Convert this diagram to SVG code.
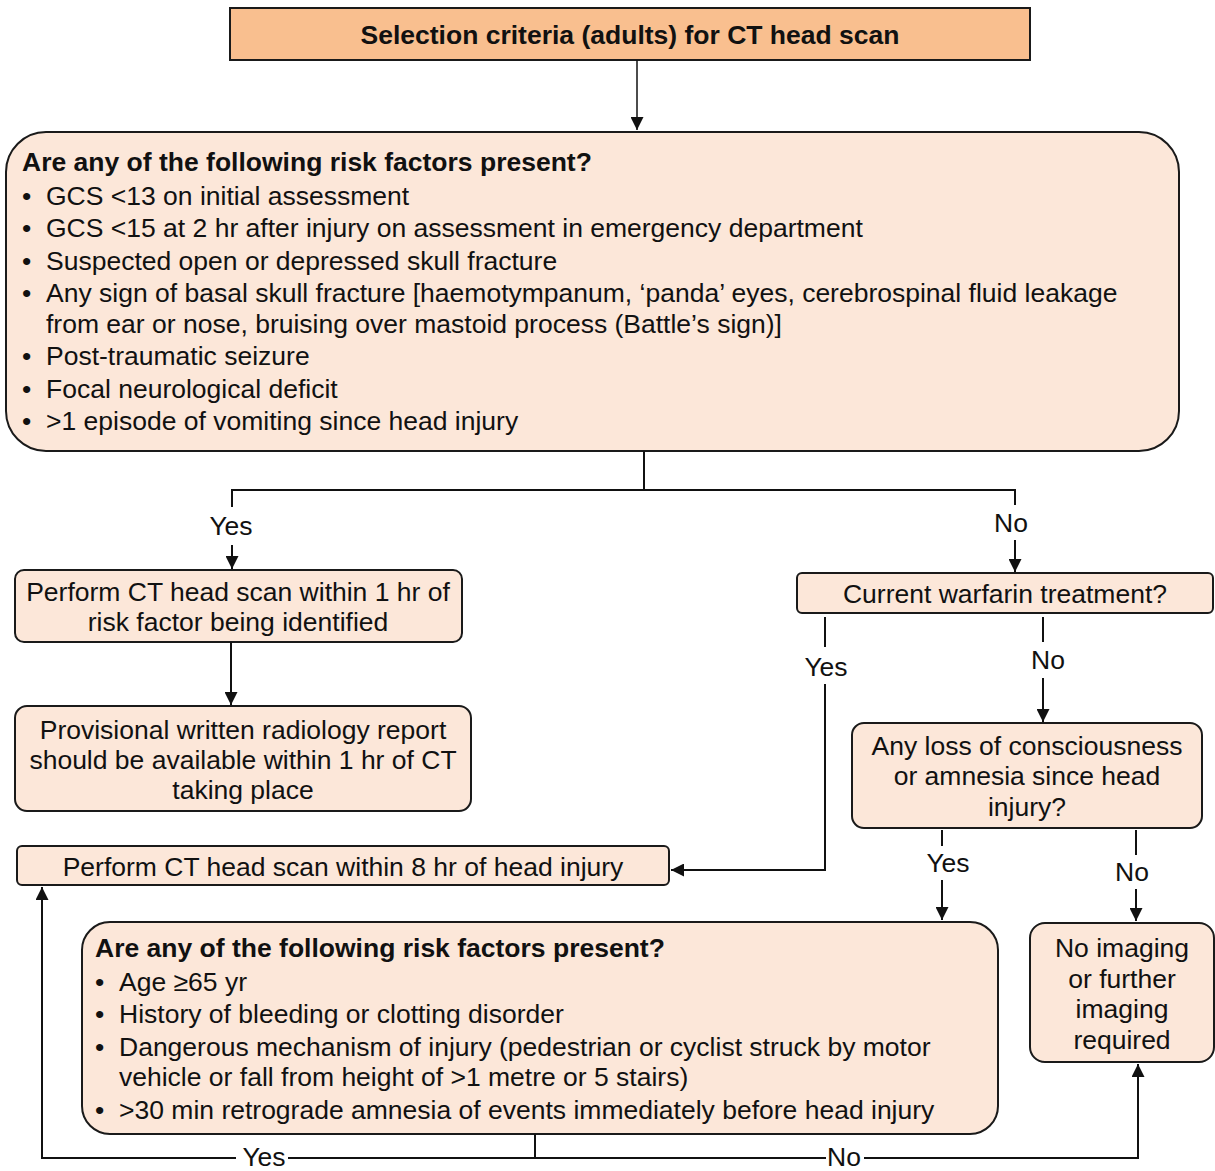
<svg xmlns="http://www.w3.org/2000/svg" width="1215" height="1171" viewBox="0 0 1215 1171">
<defs>
<marker id="ah" viewBox="0 0 14 14" refX="14" refY="7" markerWidth="15" markerHeight="13" markerUnits="userSpaceOnUse" orient="auto">
<path d="M0,0 L14,7 L0,14 Z" fill="#111"/>
</marker>
<style>
.box{fill:#FCE7D9;stroke:#1a1a1a;stroke-width:2}
.title{fill:#F9BF8F;stroke:#1a1a1a;stroke-width:2}
text{font-family:"Liberation Sans",Arial,sans-serif;font-size:26.5px;fill:#111}
.b{font-weight:bold}
.c{text-anchor:middle}
.ln{fill:none;stroke:#111;stroke-width:2}
.thin{stroke-width:1.5}
</style>
</defs>
<g id="n-title">
<rect class="title" x="230" y="8" width="800" height="52"/>
<text class="b c" x="630" y="44">Selection criteria (adults) for CT head scan</text>
</g>
<g id="n-risk1">
<rect class="box" x="6" y="132" width="1173" height="319" rx="40" ry="40"/>
<text class="b" x="22" y="171">Are any of the following risk factors present?</text>
<text x="22" y="205">•</text><text x="46" y="205">GCS &lt;13 on initial assessment</text>
<text x="22" y="237">•</text><text x="46" y="237">GCS &lt;15 at 2 hr after injury on assessment in emergency department</text>
<text x="22" y="270">•</text><text x="46" y="270">Suspected open or depressed skull fracture</text>
<text x="22" y="302">•</text><text x="46" y="302">Any sign of basal skull fracture [haemotympanum, ‘panda’ eyes, cerebrospinal fluid leakage</text>
<text x="46" y="333">from ear or nose, bruising over mastoid process (Battle’s sign)]</text>
<text x="22" y="365">•</text><text x="46" y="365">Post-traumatic seizure</text>
<text x="22" y="398">•</text><text x="46" y="398">Focal neurological deficit</text>
<text x="22" y="430">•</text><text x="46" y="430">&gt;1 episode of vomiting since head injury</text>
</g>
<g id="n-ct1hr">
<rect class="box" x="15" y="570" width="447" height="72" rx="9"/>
<text class="c" x="238" y="601">Perform CT head scan within 1 hr of</text>
<text class="c" x="238" y="631">risk factor being identified</text>
</g>
<g id="n-report">
<rect class="box" x="15" y="706" width="456" height="105" rx="12"/>
<text class="c" x="243" y="739">Provisional written radiology report</text>
<text class="c" x="243" y="769">should be available within 1 hr of CT</text>
<text class="c" x="243" y="799">taking place</text>
</g>
<g id="n-ct8hr">
<rect class="box" x="17" y="846" width="652" height="39" rx="5"/>
<text class="c" x="343" y="876">Perform CT head scan within 8 hr of head injury</text>
</g>
<g id="n-warfarin">
<rect class="box" x="797" y="573" width="416" height="40" rx="5"/>
<text class="c" x="1005" y="603">Current warfarin treatment?</text>
</g>
<g id="n-loc">
<rect class="box" x="852" y="723" width="350" height="105" rx="12"/>
<text class="c" x="1027" y="755">Any loss of consciousness</text>
<text class="c" x="1027" y="785">or amnesia since head</text>
<text class="c" x="1027" y="816">injury?</text>
</g>
<g id="n-risk2">
<rect class="box" x="82" y="922" width="916" height="212" rx="28"/>
<text class="b" x="95" y="957">Are any of the following risk factors present?</text>
<text x="95" y="991">•</text><text x="119" y="991">Age ≥65 yr</text>
<text x="95" y="1023">•</text><text x="119" y="1023">History of bleeding or clotting disorder</text>
<text x="95" y="1056">•</text><text x="119" y="1056">Dangerous mechanism of injury (pedestrian or cyclist struck by motor</text>
<text x="119" y="1086">vehicle or fall from height of &gt;1 metre or 5 stairs)</text>
<text x="95" y="1119">•</text><text x="119" y="1119">&gt;30 min retrograde amnesia of events immediately before head injury</text>
</g>
<g id="n-noimg">
<rect class="box" x="1030" y="923" width="184" height="139" rx="15"/>
<text class="c" x="1122" y="957">No imaging</text>
<text class="c" x="1122" y="988">or further</text>
<text class="c" x="1122" y="1018">imaging</text>
<text class="c" x="1122" y="1049">required</text>
</g>
<g id="connectors">
<path class="ln thin" d="M637,60 V130" marker-end="url(#ah)"/>
<path class="ln" d="M644,451 V490 M232,507 V490 H1015 V505"/>
<path class="ln" d="M232,545 V569" marker-end="url(#ah)"/>
<path class="ln" d="M1015,540 V572" marker-end="url(#ah)"/>
<text class="c" x="231" y="535">Yes</text>
<text class="c" x="1011" y="532">No</text>
<path class="ln" d="M231,642 V705" marker-end="url(#ah)"/>
<path class="ln" d="M825,617 V647"/>
<path class="ln" d="M825,684 V870 H671" marker-end="url(#ah)"/>
<text class="c" x="826" y="676">Yes</text>
<path class="ln" d="M1043,617 V642"/>
<path class="ln" d="M1043,678 V722" marker-end="url(#ah)"/>
<text class="c" x="1048" y="669">No</text>
<path class="ln" d="M942,830 V846"/>
<path class="ln" d="M942,880 V920" marker-end="url(#ah)"/>
<text class="c" x="948" y="872">Yes</text>
<path class="ln" d="M1136,830 V855"/>
<path class="ln" d="M1136,889 V921" marker-end="url(#ah)"/>
<text class="c" x="1132" y="881">No</text>
<path class="ln" d="M535,1134 V1158 M236,1158 H42 V887" marker-end="url(#ah)"/>
<path class="ln" d="M288,1158 H826 M864,1158 H1138 V1064" marker-end="url(#ah)"/>
<text class="c" x="264" y="1166">Yes</text>
<text class="c" x="844" y="1166">No</text>
</g>
</svg>
